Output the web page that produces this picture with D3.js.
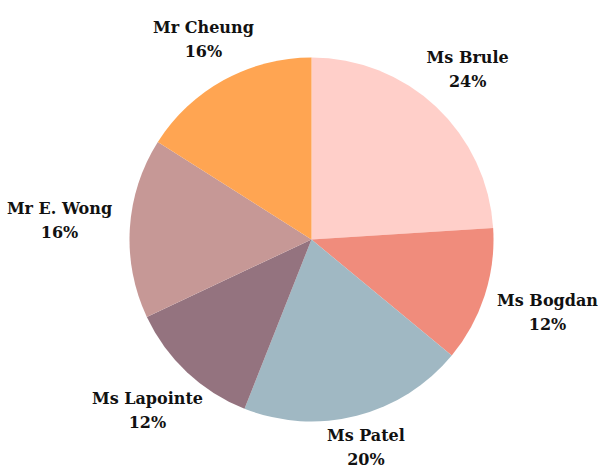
<!DOCTYPE html>
<html lang="en">
<head>
<meta charset="utf-8">
<title>Pie</title>
<script src="https://d3js.org/d3.v7.min.js"></script>
<style>
  html, body { margin: 0; padding: 0; background: #fff; }
  .label { font-family: "DejaVu Serif", serif; font-weight: bold; font-size: 16px; fill: #111; }
</style>
</head>
<body>
<div id="chart"></div>
<script>
// data, clockwise from 12 o'clock
const names = ["Ms Brule", "Ms Bogdan", "Ms Patel", "Ms Lapointe", "Mr E. Wong", "Mr Cheung"];
const shares = [24, 12, 20, 12, 16, 16];
const colors = ["#FFCFC9", "#F08C7C", "#A0B8C3", "#94737F", "#C69896", "#FFA552"];

const width = 599, height = 471;
const cx = 311.5, cy = 239.5, radius = 182;

const svg = d3.select("#chart").append("svg")
    .attr("width", width)
    .attr("height", height);

const g = svg.append("g").attr("transform", "translate(" + cx + "," + cy + ")");

const pie = d3.pie().sort(null).value(d => d.v);
const arcs = pie(names.map((n, i) => ({ name: n, v: shares[i], color: colors[i] })));

const arc = d3.arc().innerRadius(0).outerRadius(radius);

g.selectAll("path.slice")
  .data(arcs)
  .enter().append("path")
    .attr("class", "slice")
    .attr("d", arc)
    .attr("fill", d => d.data.color);

const lab = g.selectAll("text.label")
  .data(arcs)
  .enter().append("text")
    .attr("class", "label")
    .attr("text-anchor", "middle");

lab.append("tspan")
    .attr("x", 0)
    .attr("y", -10)
    .text(d => d.data.name);
lab.append("tspan")
    .attr("x", 0)
    .attr("y", 14)
    .text(d => d.data.v + "%");

// push each label block out from the rim so it clears the pie
lab.attr("transform", function (d) {
    const a = (d.startAngle + d.endAngle) / 2;
    const s = Math.sin(a), c = Math.cos(a);
    const halfW = this.getBBox().width / 2;
    const r = radius + 18 + Math.abs(s) * halfW + 11 * Math.pow(Math.max(0, -c), 6);
    return "translate(" + (s * r) + "," + (-c * r) + ")";
});
</script>
</body>
</html>
